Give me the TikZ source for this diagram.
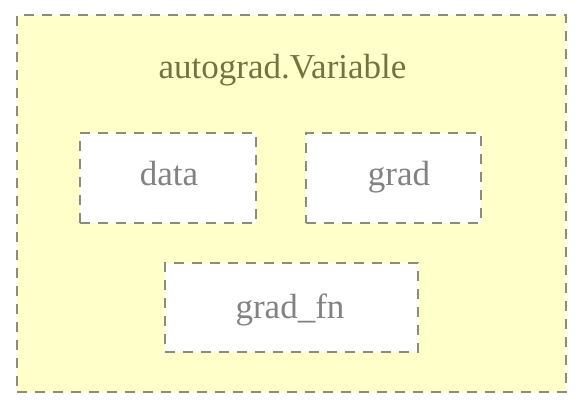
\documentclass[tikz,border=0pt]{standalone}
\usepackage{fontspec}
\setmainfont{Liberation Serif}
\definecolor{bordergray}{RGB}{140,140,125}
\definecolor{paleyellow}{RGB}{255,255,202}
\definecolor{titlecol}{RGB}{115,115,65}
\definecolor{labelcol}{RGB}{130,130,130}
\tikzset{
  dashbox/.style={draw=bordergray, line width=2.2pt, dash pattern=on 10pt off 8pt, inner sep=0pt},
  innerbox/.style={dashbox, fill=white},
  boxlabel/.style={anchor=base, inner sep=0pt, text=labelcol, font=\fontsize{35}{42}\selectfont},
}
\begin{document}
\begin{tikzpicture}[x=1pt,y=-1pt]
\useasboundingbox (0,0) rectangle (584,412);
\node[dashbox, fill=paleyellow, minimum width=549pt, minimum height=377pt] (outer) at (291.5,203.5) {};
\node[boxlabel, text=titlecol] (title) at (282.5,78) {autograd.Variable};
\node[innerbox, minimum width=176pt, minimum height=90pt] (data) at (168,178) {};
\node[innerbox, minimum width=175pt, minimum height=90pt] (grad) at (393.5,178) {};
\node[innerbox, minimum width=253pt, minimum height=89pt] (gradfn) at (291.5,307.5) {};
\node[boxlabel] (datalabel) at (169,185) {data};
\node[boxlabel] (gradlabel) at (399,185) {grad};
\node[boxlabel] (gradfnlabel) at (290,318) {grad\_fn};
\end{tikzpicture}
\end{document}
